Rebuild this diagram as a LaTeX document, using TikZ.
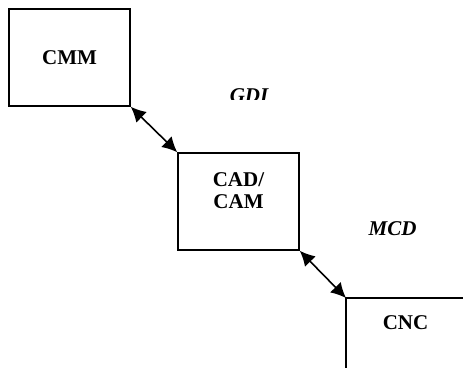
\documentclass[tikz,border=0pt]{standalone}
\usepackage{fontspec}
\setmainfont{Liberation Serif}
\usetikzlibrary{arrows.meta}
\begin{document}
\begin{tikzpicture}[x=1pt,y=-1pt,
  box/.style={draw=black, line width=1.5pt, minimum width=121pt, minimum height=97pt, inner sep=0pt, font=\fontsize{21}{22}\selectfont\bfseries},
  lbl/.style={inner sep=0pt, font=\fontsize{21}{22}\selectfont\bfseries, align=center},
  ilbl/.style={inner sep=0pt, font=\fontsize{21}{22}\selectfont\bfseries\itshape},
  tip/.tip={Latex[length=15pt,width=15pt]},
  link/.style={line width=1.6pt, tip-tip}]
\useasboundingbox (0,0) rectangle (463,367);
\clip (0,0) rectangle (463,367);
\node[box] (cmm) at (69.5,57.5) {CMM};
\node[box] (cad) at (238.5,201.5) {};
\node[lbl] (cadtext) at (238.5,190.5) {CAD/\\CAM};
\draw[line width=1.5pt] (346,420) coordinate (cncbl) -- (346,298) coordinate (cnc) -- (480,298) coordinate (cnctr);
\node[lbl] (cnctext) at (405.5,322.5) {CNC};
\begin{scope}
\clip (200,70) rectangle (300,99.5);
\node[ilbl, anchor=base] (gdi) at (249,102) {GDI};
\end{scope}
\node[ilbl] (mcd) at (392.5,228.5) {MCD};
\draw[link] (cmm.south east) -- (cad.north west);
\draw[link] (cad.south east) -- (cnc);
\end{tikzpicture}
\end{document}
